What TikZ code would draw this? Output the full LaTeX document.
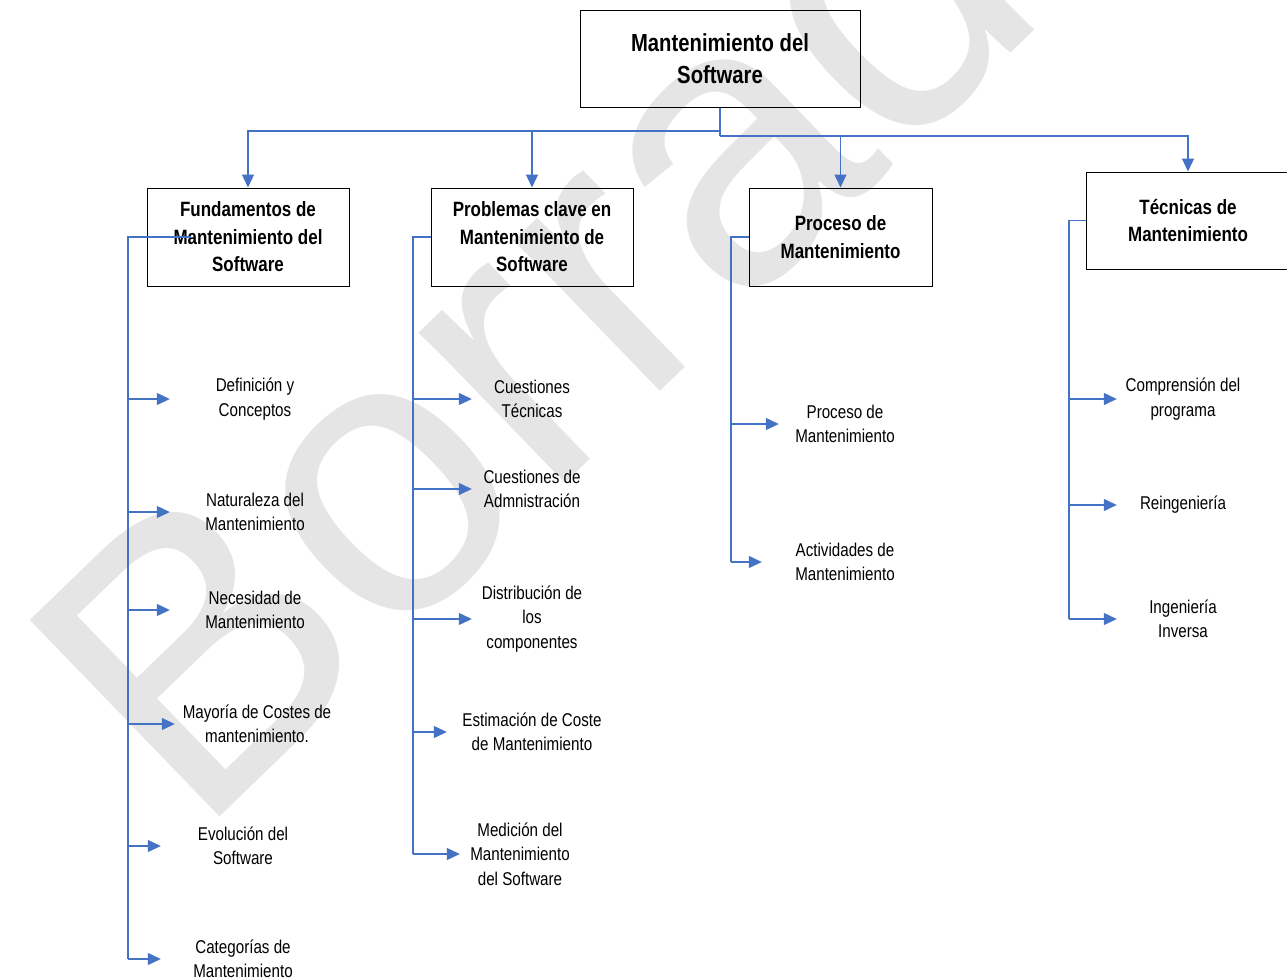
\documentclass[tikz,border=0pt]{standalone}
\usepackage{fontspec}
\setmainfont{Liberation Sans}[FakeStretch=0.82]
\newfontfamily\wmfont{Liberation Sans}
\usetikzlibrary{arrows.meta}
\definecolor{linkblue}{RGB}{68,114,196}
\definecolor{wmgray}{RGB}{229,229,229}
\tikzset{
  box/.style={draw=black, line width=1pt, align=center, inner sep=0pt,
    font=\bfseries\fontsize{20.7}{27.5}\selectfont},
  leaf/.style={align=center, inner sep=0pt, minimum height=10pt,
    font=\fontsize{18.5}{24.5}\selectfont},
  link/.style={draw=linkblue, line width=1.2pt},
  arrowlink/.style={link, -{Triangle[length=13pt,width=12pt]}},
}
\begin{document}
\begin{tikzpicture}[x=1pt,y=-1pt]
\useasboundingbox (0,0) rectangle (1287,978);
\fill[white] (0,0) rectangle (1287,978);

% draft watermark
\begin{scope}
  \clip (0,0) rectangle (1287,978);
  \node[rotate=44, anchor=base west, inner sep=0pt, text=wmgray]
    (wm) at (196,840) {\wmfont\fontsize{397}{397}\selectfont Borrador};
\end{scope}

% main boxes
\node[box, minimum width=280pt, minimum height=97pt,
  font=\bfseries\fontsize{24.7}{32}\selectfont]
  (root) at (720,58.5) {Mantenimiento del\\Software};
\node[box, minimum width=202pt, minimum height=98pt] (fund) at (248,237)
  {Fundamentos de\\Mantenimiento del\\Software};
\node[box, minimum width=202pt, minimum height=98pt] (prob) at (532,237)
  {Problemas clave en\\Mantenimiento de\\Software};
\node[box, minimum width=183pt, minimum height=98pt] (proc) at (840.5,237)
  {Proceso de\\Mantenimiento};
\node[box, minimum width=204pt, minimum height=97pt] (tec) at (1188,220.5)
  {Técnicas de\\Mantenimiento};

% top-level connectors
\coordinate (jl) at (720,131);
\coordinate (jr) at (720,136);
\draw[link] (root.south) -- (jr);
\draw[arrowlink] (jl) -| (fund.north);
\draw[arrowlink] (jl) -| (prob.north);
\draw[arrowlink] (jr) -| (proc.north);
\draw[arrowlink] (jr) -| (tec.north);

% leaves: the west anchor of each node is its arrow tip
\node[leaf, minimum width=170pt] (def) at (255,399) {Definición y\\Conceptos};
\node[leaf, minimum width=170pt] (nat) at (255,512) {Naturaleza del\\Mantenimiento};
\node[leaf, minimum width=170pt] (nec) at (255,610) {Necesidad de\\Mantenimiento};
\node[leaf, minimum width=164pt] (may) at (257,724) {Mayoría de Costes de\\mantenimiento.};
\node[leaf, minimum width=164pt] (evo) at (243,846) {Evolución del\\Software};
\node[leaf, minimum width=164pt] (cat) at (243,959) {Categorías de\\Mantenimiento};

\node[leaf, minimum width=120pt] (ctec) at (532,399) {Cuestiones\\Técnicas};
\node[leaf, minimum width=120pt] (cadm) at (532,489) {Cuestiones de\\Admnistración};
\node[leaf, minimum width=120pt] (dist) at (532,619) {Distribución de\\los\\componentes};
\node[leaf, minimum width=170pt] (est) at (532,732) {Estimación de Coste\\de Mantenimiento};
\node[leaf, minimum width=120pt] (med) at (520,854) {Medición del\\Mantenimiento\\del Software};

\node[leaf, minimum width=132pt] (pm) at (845,424) {Proceso de\\Mantenimiento};
\node[leaf, minimum width=166pt] (act) at (845,562) {Actividades de\\Mantenimiento};

\node[leaf, minimum width=132pt] (comp) at (1183,399) {Comprensión del\\programa};
\node[leaf, minimum width=132pt] (reing) at (1183,505) {Reingeniería};
\node[leaf, minimum width=132pt] (inv) at (1183,619) {Ingeniería\\Inversa};

% spines
\coordinate (fs) at (128,237);
\coordinate (ps) at (413,237);
\coordinate (rs) at (731,237);
\coordinate (ts) at (1069,220.5);
\draw[link] ([xshift=44pt]fund.west) -- (fs) -- (fs |- cat.west);
\draw[link] (prob.west) -- (ps) -- (ps |- med.west);
\draw[link] (proc.west) -- (rs) -- (rs |- act.west);
\draw[link] (tec.west) -- (ts) -- (ts |- inv.west);

\foreach \n in {def,nat,nec,may,evo,cat}
  \draw[arrowlink] (fs |- \n.west) -- (\n.west);
\foreach \n in {ctec,cadm,dist,est,med}
  \draw[arrowlink] (ps |- \n.west) -- (\n.west);
\foreach \n in {pm,act}
  \draw[arrowlink] (rs |- \n.west) -- (\n.west);
\foreach \n in {comp,reing,inv}
  \draw[arrowlink] (ts |- \n.west) -- (\n.west);
\end{tikzpicture}
\end{document}
